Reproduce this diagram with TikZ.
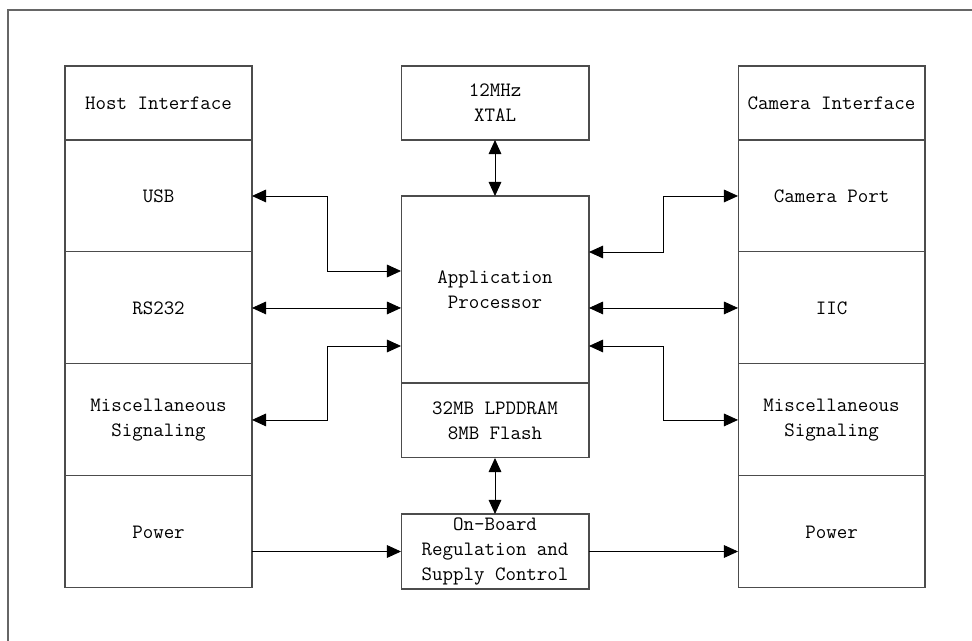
\documentclass[tikz,border=0pt]{standalone}
\usetikzlibrary{arrows.meta,positioning,calc}

\begin{document}
\begin{tikzpicture}[x=0.02cm, y=-0.02cm,
  font=\ttfamily\fontsize{11.6}{14.2}\selectfont,
  block/.style={draw=black!70, line width=0.6pt, outer sep=0pt, align=center,
    minimum width=3.74cm, inner sep=0pt},
  head/.style={block, minimum height=1.48cm},
  cell/.style={block, minimum height=2.24cm},
  link/.style={line width=0.5pt, {Triangle[length=8pt,width=7.2pt]}-{Triangle[length=8pt,width=7.2pt]}},
  feed/.style={line width=0.5pt, -{Triangle[length=8pt,width=7.2pt]}}]

% Page and frame
\clip (0,0) rectangle (972,641);
\fill[white] (0,0) rectangle (972,641);
\draw[black!60, line width=0.6pt] (8,700) |- (1000,10);

% Host side
\node[head] (host) at (158.5,103) {Host Interface};
\node[cell, below=0pt of host] (usb) {USB};
\node[cell, below=0pt of usb] (rs232) {RS232};
\node[cell, below=0pt of rs232] (hmisc) {Miscellaneous\\Signaling};
\node[cell, below=0pt of hmisc] (hpower) {Power};

% Processor column
\node[head, minimum width=3.76cm] (xtal) at (495,103) {12MHz\\XTAL};
\node[block, minimum width=3.76cm, minimum height=3.74cm] (ap) at (495,289.5) {Application\\Processor};
\node[block, minimum width=3.76cm, minimum height=1.5cm, below=0pt of ap] (mem) {32MB LPDDRAM\\8MB Flash};
\node[block, minimum width=3.76cm, minimum height=1.5cm] (reg) at (495,551.5) {On-Board\\Regulation and\\Supply Control};

% Camera side
\node[head] (cam) at (831.5,103) {Camera Interface};
\node[cell, below=0pt of cam] (camport) {Camera Port};
\node[cell, below=0pt of camport] (iic) {IIC};
\node[cell, below=0pt of iic] (cmisc) {Miscellaneous\\Signaling};
\node[cell, below=0pt of cmisc] (cpower) {Power};

% Bus columns
\coordinate (lbus) at (327,0);
\coordinate (rbus) at (663,0);

% Links to processor
\draw[link] (xtal.south) -- (ap.north);
\draw[link] (mem.south) -- (reg.north);
\draw[link] (usb.east) -- (usb.east -| lbus) |- ([yshift=0.37cm]ap.west);
\draw[link] (rs232.east) -- (rs232.east -| ap.west);
\draw[link] (hmisc.east) -- (hmisc.east -| lbus) |- ([yshift=-1.13cm]ap.west);
\draw[link] ([yshift=0.75cm]ap.east) -| (rbus |- camport.west) -- (camport.west);
\draw[link] (iic.west -| ap.east) -- (iic.west);
\draw[link] ([yshift=-1.13cm]ap.east) -| (rbus |- cmisc.west) -- (cmisc.west);

% Power path
\draw[feed] (reg.west -| hpower.east) -- (reg.west);
\draw[feed] (reg.east) -- (reg.east -| cpower.west);

\end{tikzpicture}
\end{document}
